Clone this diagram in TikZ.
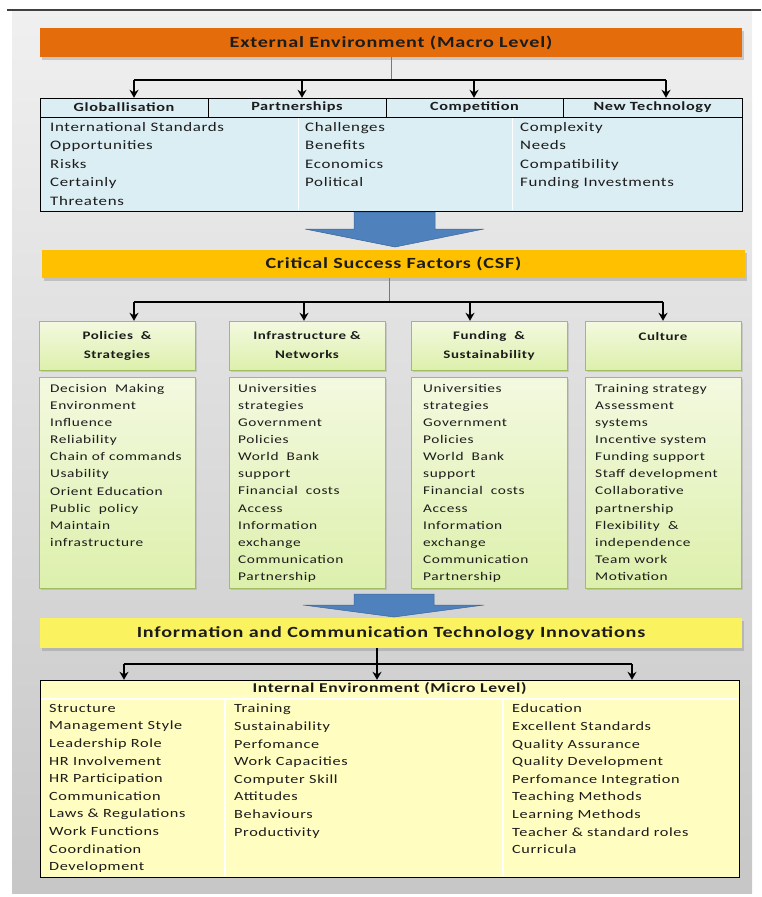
\documentclass[tikz,border=0pt]{standalone}
\usepackage{fontspec}
\setmainfont{Carlito}[FakeStretch=1.3,LetterSpace=5]
\usetikzlibrary{arrows.meta,shadows,positioning}

\definecolor{macroorange}{RGB}{228,108,10}
\definecolor{csfgold}{RGB}{255,192,0}
\definecolor{ictyellow}{RGB}{251,242,96}
\definecolor{microyellow}{RGB}{255,253,192}
\definecolor{tableblue}{RGB}{219,238,244}
\definecolor{arrowblue}{RGB}{79,129,189}
\definecolor{leafgreen}{RGB}{160,190,95}
\definecolor{leaftop}{RGB}{243,249,224}
\definecolor{leafbottom}{RGB}{221,240,172}
\definecolor{inktext}{RGB}{28,28,28}

\tikzset{
  bar/.style={minimum width=702pt, minimum height=29pt, inner sep=0pt,
    font=\fontsize{15.5}{18}\selectfont\bfseries, text=inktext,
    drop shadow={opacity=0.35, shadow xshift=2pt, shadow yshift=-3pt}},
  headcell/.style={draw, fill=tableblue, minimum height=19pt, inner sep=0pt,
    font=\fontsize{12.5}{15}\selectfont\bfseries, text=inktext},
  itemlist/.style={anchor=north west, align=left, inner sep=0pt, text=inktext},
  tablefont/.style={font=\fontsize{13}{18.5}\selectfont},
  leaffont/.style={font=\fontsize{11.8}{17.1}\selectfont},
  microfont/.style={font=\fontsize{12.5}{17.6}\selectfont},
  leafhead/.style={draw=leafgreen, top color=leaftop, bottom color=leafbottom,
    minimum width=156pt, minimum height=49pt, inner sep=0pt, align=center,
    font=\fontsize{11.5}{19}\selectfont\bfseries, text=inktext,
    drop shadow={opacity=0.25, shadow xshift=1.5pt, shadow yshift=-2pt}},
  leafbody/.style={leafhead, minimum height=211pt},
  tie/.style={arrowblue, line width=0.8pt},
  rail/.style={black, line width=1.3pt},
  drop/.style={rail, -{Stealth[length=8pt, width=9pt]}},
  bigarrow/.style={fill=arrowblue, draw=arrowblue!80!black, line width=0.5pt}
}

\begin{document}
\begin{tikzpicture}[x=1pt,y=-1pt]
  \useasboundingbox (0,0) rectangle (761,897);
  % backdrop
  \fill[top color=black!6, bottom color=black!22] (12,11) rectangle (752,893);
  \draw[line width=1.6pt, black!75] (7,10) -- (761,10);

  % external environment
  \node[bar, fill=macroorange] (macro) at (391,42.5) {External Environment (Macro Level)};
  \node[draw, fill=tableblue, minimum width=702pt, minimum height=94pt] (macrobody) at (391,164) {};
  \node[headcell, minimum width=168pt] (glob) at (124,107.5) {Globallisation};
  \node[headcell, minimum width=178pt] (part) at (297,107.5) {Partnerships};
  \node[headcell, minimum width=177pt] (comp) at (474.5,107.5) {Competition};
  \node[headcell, minimum width=179pt] (newt) at (652.5,107.5) {New Technology};
  \draw[white, line width=1pt] (298,118) -- (298,210) (512,118) -- (512,210);

  \node[itemlist, tablefont] (globitems) at (50,122)
    {International Standards\\Opportunities\\Risks\\Certainly\\Threatens};
  \node[itemlist, tablefont] (partitems) at (305,122)
    {Challenges\\Benefits\\Economics\\Political};
  \node[itemlist, tablefont] (techitems) at (520,122)
    {Complexity\\Needs\\Compatibility\\Funding Investments};

  \coordinate (m1) at (134,80);
  \coordinate (m2) at (302,80);
  \coordinate (m3) at (474,80);
  \coordinate (m4) at (666,80);
  \draw[tie] (macro.south) -- (macro.south |- m1);
  \draw[rail] (m1) -- (m4);
  \foreach \c/\n in {m1/glob, m2/part, m3/comp, m4/newt}
    \draw[drop] (\c) -- (\c |- \n.north);

  \draw[bigarrow] (354,212) -- (435,212) -- (435,229) -- (484,229)
    -- (395,247) -- (305,229) -- (354,229) -- cycle;

  % critical success factors
  \node[bar, fill=csfgold, minimum width=703pt, minimum height=28pt] (csf) at (393.5,264)
    {Critical Success Factors (CSF)};

  \node[leafhead] (policy) at (117,345.5) {Policies \ \&\\Strategies};
  \node[leafhead] (infra) at (307,345.5) {Infrastructure \&\\Networks};
  \node[leafhead] (fund) at (489,345.5) {Funding \ \&\\Sustainability};
  \node[leafhead] (culture) at (663,345.5) {Culture\\\mbox{}};

  \node[leafbody, below=7pt of policy] (policybody) {};
  \node[leafbody, below=7pt of infra] (infrabody) {};
  \node[leafbody, below=7pt of fund] (fundbody) {};
  \node[leafbody, below=7pt of culture] (culturebody) {};

  \node[itemlist, leaffont] (policyitems) at (50,384)
    {Decision \ Making\\Environment\\Influence\\Reliability\\Chain of commands\\Usability\\Orient Education\\Public \ policy\\Maintain\\infrastructure};
  \node[itemlist, leaffont] (infraitems) at (238,384)
    {Universities\\strategies\\Government\\Policies\\World \ Bank\\support\\Financial \ costs\\Access\\Information\\exchange\\Communication\\Partnership};
  \node[itemlist, leaffont] (funditems) at (423,384)
    {Universities\\strategies\\Government\\Policies\\World \ Bank\\support\\Financial \ costs\\Access\\Information\\exchange\\Communication\\Partnership};
  \node[itemlist, leaffont] (cultureitems) at (595,384)
    {Training strategy\\Assessment\\systems\\Incentive system\\Funding support\\Staff development\\Collaborative\\partnership\\Flexibility \ \&\\independence\\Team work\\Motivation};

  \coordinate (c1) at (134,302);
  \coordinate (c2) at (304,302);
  \coordinate (c3) at (470,302);
  \coordinate (c4) at (663,302);
  \draw[tie] (389,278) -- (389,302);
  \draw[rail] (c1) -- (c4);
  \foreach \c/\n in {c1/policy, c2/infra, c3/fund, c4/culture}
    \draw[drop] (\c) -- (\c |- \n.north);

  \draw[bigarrow] (354,594) -- (434,594) -- (434,605) -- (484,605)
    -- (394,617) -- (303,605) -- (354,605) -- cycle;

  % ict and internal environment
  \node[bar, fill=ictyellow, minimum height=30pt] (ict) at (391,633)
    {Information and Communication Technology Innovations};

  \node[draw, fill=microyellow, minimum width=699pt, minimum height=197pt] (micro) at (389.5,778.5) {};
  \draw[white, line width=1.2pt] (41,699) -- (738,699) (225,700) -- (225,876) (503,700) -- (503,876);
  \node[font=\fontsize{13.5}{16}\selectfont\bfseries, text=inktext, inner sep=0pt] (microtitle) at (389.5,689)
    {Internal Environment (Micro Level)};

  \node[itemlist, microfont] (structitems) at (49,704)
    {Structure\\Management Style\\Leadership Role\\HR Involvement\\HR Participation\\Communication\\Laws \& Regulations\\Work Functions\\Coordination\\Development};
  \node[itemlist, microfont] (trainitems) at (234,704)
    {Training\\Sustainability\\Perfomance\\Work Capacities\\Computer Skill\\Attitudes\\Behaviours\\Productivity};
  \node[itemlist, microfont] (eduitems) at (512,704)
    {Education\\Excellent Standards\\Quality Assurance\\Quality Development\\Perfomance Integration\\Teaching Methods\\Learning Methods\\Teacher \& standard roles\\Curricula};

  \coordinate (i1) at (124,664);
  \coordinate (i2) at (377,664);
  \coordinate (i3) at (632,664);
  \draw[rail] (i1) -- (i3);
  \draw[drop] (i2 |- ict.south) -- (i2 |- micro.north);
  \foreach \c in {i1, i3}
    \draw[drop] (\c) -- (\c |- micro.north);
\end{tikzpicture}
\end{document}
